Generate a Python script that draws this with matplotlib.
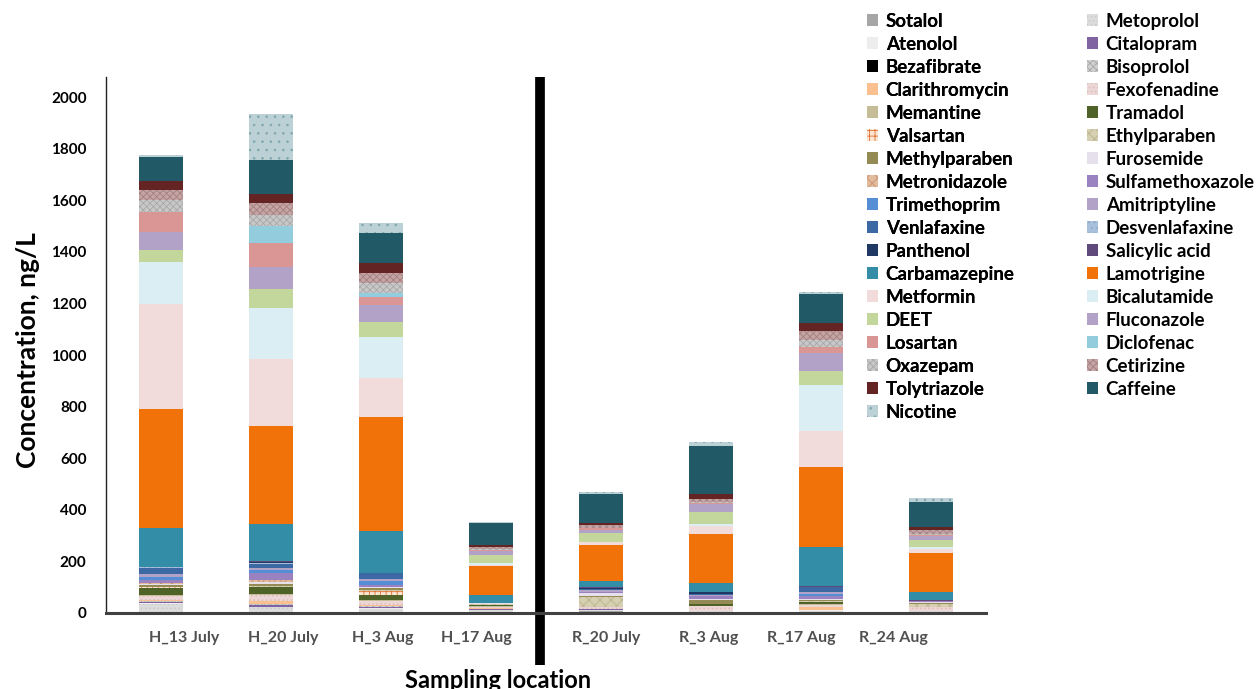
import matplotlib
matplotlib.use("Agg")
import matplotlib.pyplot as plt
from matplotlib.patches import Patch
import numpy as np

# ---------------- data ----------------
locations = ["H_13 July", "H_20 July", "H_3 Aug", "H_17 Aug",
             "R_20 July", "R_3 Aug", "R_17 Aug", "R_24 Aug"]

sotalol = [5, 5, 5, 3, 8, 3, 4, 3]
metoprolol = [30, 17, 12, 8, 3, 3, 5, 3]
atenolol = [3, 3, 3, 2, 2, 2, 2, 2]
citalopram = [5, 6, 5, 2, 2, 0, 0, 0]
bezafibrate = [0, 0, 0, 0, 0, 0, 0, 0]
bisoprolol = [3, 3, 3, 2, 0, 0, 2, 0]
clarithromycin = [5, 14, 3, 2, 0, 0, 10, 0]
fexofenadine = [15, 20, 15, 6, 9, 20, 8, 15]
memantine = [5, 4, 3, 2, 0, 0, 3, 0]
tramadol = [25, 28, 22, 3, 0, 8, 9, 0]
valsartan = [3, 2, 15, 1, 0, 0, 0, 0]
ethylparaben = [3, 4, 4, 2, 38, 0, 3, 12]
methylparaben = [5, 5, 5, 3, 4, 16, 4, 5]
furosemide = [5, 10, 5, 1, 10, 4, 4, 2]
metronidazole = [3, 5, 2, 0, 0, 0, 2, 0]
sulfamethoxazole = [14, 30, 8, 2, 7, 8, 10, 4]
trimethoprim = [10, 12, 15, 0, 0, 0, 8, 0]
amitriptyline = [12, 5, 8, 0, 6, 5, 8, 2]
venlafaxine = [24, 18, 23, 1, 4, 3, 20, 0]
desvenlafaxine = [3, 3, 0, 0, 0, 0, 0, 0]
panthenol = [0, 5, 0, 0, 2, 8, 0, 0]
salicylic_acid = [0, 4, 0, 0, 4, 0, 3, 2]
carbamazepine = [151, 142, 163, 30, 25, 38, 150, 33]
lamotrigine = [462, 380, 442, 112, 140, 188, 310, 151]
metformin = [408, 258, 149, 5, 12, 31, 140, 15]
bicalutamide = [160, 198, 161, 8, 0, 8, 179, 6]
deet = [49, 74, 58, 30, 35, 48, 55, 28]
fluconazole = [68, 85, 65, 16, 12, 29, 70, 15]
losartan = [78, 93, 33, 4, 5, 4, 23, 4]
diclofenac = [0, 67, 15, 0, 0, 0, 0, 0]
oxazepam = [48, 43, 36, 4, 0, 6, 26, 6]
cetirizine = [36, 45, 39, 6, 12, 9, 36, 14]
tolytriazole = [35, 35, 38, 9, 10, 20, 29, 13]
caffeine = [93, 133, 119, 84, 111, 186, 113, 97]
nicotine = [10, 178, 39, 6, 9, 17, 9, 13]

compound_names = ["Sotalol", "Metoprolol", "Atenolol", "Citalopram", "Bezafibrate",
                  "Bisoprolol", "Clarithromycin", "Fexofenadine", "Memantine", "Tramadol",
                  "Valsartan", "Ethylparaben", "Methylparaben", "Furosemide", "Metronidazole",
                  "Sulfamethoxazole", "Trimethoprim", "Amitriptyline", "Venlafaxine",
                  "Desvenlafaxine", "Panthenol", "Salicylic acid", "Carbamazepine",
                  "Lamotrigine", "Metformin", "Bicalutamide", "DEET", "Fluconazole",
                  "Losartan", "Diclofenac", "Oxazepam", "Cetirizine", "Tolytriazole",
                  "Caffeine", "Nicotine"]

series = [sotalol, metoprolol, atenolol, citalopram, bezafibrate, bisoprolol,
          clarithromycin, fexofenadine, memantine, tramadol, valsartan, ethylparaben,
          methylparaben, furosemide, metronidazole, sulfamethoxazole, trimethoprim,
          amitriptyline, venlafaxine, desvenlafaxine, panthenol, salicylic_acid,
          carbamazepine, lamotrigine, metformin, bicalutamide, deet, fluconazole,
          losartan, diclofenac, oxazepam, cetirizine, tolytriazole, caffeine, nicotine]

# ---------------- styles (face, hatch, hatch colour) ----------------
styles = {
    "Sotalol": ("#a6a6a6", None, None),
    "Metoprolol": ("#dcdcdc", "....", "#cacaca"),
    "Atenolol": ("#ededed", None, None),
    "Citalopram": ("#8064a2", None, None),
    "Bezafibrate": ("#000000", None, None),
    "Bisoprolol": ("#d0d0d0", "xxxxx", "#a8a8a8"),
    "Clarithromycin": ("#fac090", None, None),
    "Fexofenadine": ("#ecd6d6", "....", "#dbbcbc"),
    "Memantine": ("#c4bd97", None, None),
    "Tramadol": ("#4f6228", None, None),
    "Valsartan": ("#fbe6d4", "+++", "#e07030"),
    "Ethylparaben": ("#d6d0b2", "xxx", "#bcb38c"),
    "Methylparaben": ("#948a54", None, None),
    "Furosemide": ("#e6e0ec", None, None),
    "Metronidazole": ("#e2bc9c", "xxx", "#c69070"),
    "Sulfamethoxazole": ("#9a82c0", None, None),
    "Trimethoprim": ("#558ed5", None, None),
    "Amitriptyline": ("#b3a2c7", None, None),
    "Venlafaxine": ("#3c68a4", None, None),
    "Desvenlafaxine": ("#a8c0dc", "...", "#8aa6c8"),
    "Panthenol": ("#1f3864", None, None),
    "Salicylic acid": ("#604a7b", None, None),
    "Carbamazepine": ("#338da6", None, None),
    "Lamotrigine": ("#f2720a", None, None),
    "Metformin": ("#f2dcdb", None, None),
    "Bicalutamide": ("#dbeef4", None, None),
    "DEET": ("#c3d69b", None, None),
    "Fluconazole": ("#b3a2c7", None, None),
    "Losartan": ("#d99694", None, None),
    "Diclofenac": ("#93cddd", None, None),
    "Oxazepam": ("#c8c8c8", "xxxxx", "#a8a8a8"),
    "Cetirizine": ("#c4a4a4", "xxxxx", "#a48080"),
    "Tolytriazole": ("#632423", None, None),
    "Caffeine": ("#215967", None, None),
    "Nicotine": ("#bcd1d6", "..", "#7fa6b0"),
}

plt.rcParams["font.family"] = ["Lato", "DejaVu Sans"]
plt.rcParams["hatch.linewidth"] = 0.6

fig = plt.figure(figsize=(12.57, 6.89), dpi=100)
ax = fig.add_axes([106 / 1257, 1 - 613 / 689, 880 / 1257, 536 / 689])

x = np.arange(len(locations))
bottom = np.zeros(len(locations))
handles = []
for name, vals in zip(compound_names, series):
    face, hatch, hcol = styles[name]
    vals = np.array(vals, dtype=float)
    ax.bar(x, vals, width=0.4, bottom=bottom, color=face,
           edgecolor=hcol if hcol else face, linewidth=0, hatch=hatch)
    bottom += vals
    handles.append(Patch(facecolor=face, edgecolor=hcol if hcol else face,
                         linewidth=0, hatch=hatch, label=name))

ax.set_xlim(-0.5, 7.5)
ax.set_ylim(0, 2078)
ax.set_yticks(np.arange(0, 2001, 200))
ax.tick_params(axis="y", length=0, pad=14, labelsize=11)
for lab in ax.get_yticklabels():
    lab.set_fontweight("bold")

label_x = x + np.array([0.21, 0.11, 0.02, -0.13, 0.05, -0.02, -0.18, -0.34])
ax.set_xticks(label_x)
ax.set_xticklabels(locations, fontsize=11.5, fontweight="bold", color="#505050")
ax.tick_params(axis="x", length=0, pad=13)

for s in ("top", "right"):
    ax.spines[s].set_visible(False)
ax.spines["left"].set_color("#222222")
ax.spines["left"].set_linewidth(1.0)
ax.spines["bottom"].set_color("#404040")
ax.spines["bottom"].set_linewidth(2.2)

# separator between hospital and river samples
ax.plot([3.445, 3.445], [-0.097, 1.0], transform=ax.get_xaxis_transform(),
        color="black", linewidth=7, clip_on=False, solid_capstyle="butt")

fig.text(28 / 1257, 1 - 350 / 689, "Concentration, ng/L", rotation=90,
         ha="center", va="center", fontsize=19, fontweight="bold")
fig.text(498 / 1257, 1 - 680 / 689, "Sampling location",
         ha="center", va="center", fontsize=17, fontweight="bold", zorder=5)

leg_kw = dict(frameon=False, handlelength=0.6, handleheight=0.6,
              handletextpad=0.4, labelspacing=0.32, borderpad=0, borderaxespad=0,
              prop={"weight": "bold", "size": 13.5})
col1 = handles[0::2]
col2 = handles[1::2]
leg1 = fig.legend(handles=col1, loc="upper left",
                  bbox_to_anchor=(867 / 1257, 1 - 13 / 689), **leg_kw)
fig.add_artist(leg1)
leg2 = fig.legend(handles=col2, loc="upper left",
                  bbox_to_anchor=(1087 / 1257, 1 - 13 / 689), **leg_kw)

fig.savefig("out.png", dpi=100)
